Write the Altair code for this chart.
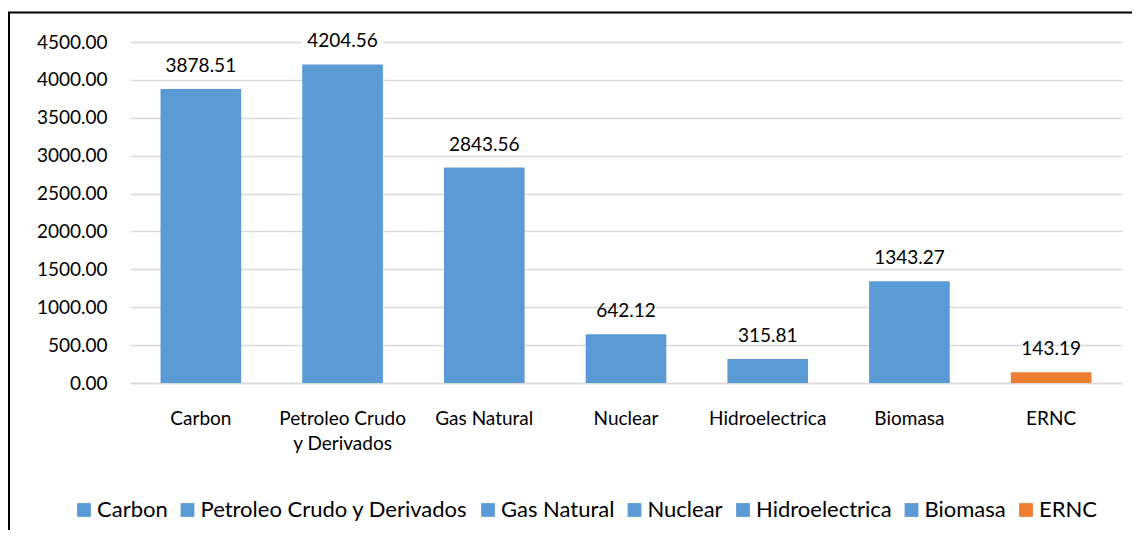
import altair as alt
import pandas as pd

categories = ["Carbon", "Petroleo Crudo y Derivados", "Gas Natural", "Nuclear",
              "Hidroelectrica", "Biomasa", "ERNC"]
values = [3878.51, 4204.56, 2843.56, 642.12, 315.81, 1343.27, 143.19]
bar_colors = ["#5B9BD5", "#5B9BD5", "#5B9BD5", "#5B9BD5", "#5B9BD5", "#5B9BD5", "#ED7D31"]
y_ticks = [0, 500, 1000, 1500, 2000, 2500, 3000, 3500, 4000, 4500]

df = pd.DataFrame({"cat": categories, "val": values})

FONT = "Lato"
W, H = 992, 341

x_axis = alt.Axis(
    labelAngle=0, ticks=False, labelPadding=26, labelFontSize=19,
    labelFont=FONT, labelColor="#000000", domainColor="#D9D9D9",
    domainWidth=1.5, labelLineHeight=25, labelBaseline="top", grid=False,
    labelExpr="datum.value == 'Petroleo Crudo y Derivados' ? ['Petroleo Crudo', 'y Derivados'] : datum.value",
)
y_axis = alt.Axis(
    values=y_ticks, tickCount=10, format=".2f", ticks=False, domain=False,
    labelPadding=23, labelFontSize=19, labelFont=FONT,
    labelColor="#000000", gridColor="#D9D9D9", gridWidth=1.5,
    labelOverlap=False, labelSeparation=0,
)
x_scale = alt.Scale(paddingInner=0.431, paddingOuter=0.2155)
y_scale = alt.Scale(domain=[0, 4500], nice=False)


def xe():
    return alt.X("cat:N", sort=categories, title=None, scale=x_scale, axis=x_axis)


def ye():
    return alt.Y("val:Q", scale=y_scale, title=None, axis=y_axis)


bars = alt.Chart(df).mark_bar().encode(
    x=xe(),
    y=ye(),
    color=alt.Color(
        "cat:N", sort=categories,
        scale=alt.Scale(domain=categories, range=bar_colors),
        legend=alt.Legend(
            title=None, orient="none", direction="horizontal",
            legendX=-57, legendY=457, symbolType="square", symbolSize=190,
            symbolStrokeWidth=0, labelFontSize=22, labelFont=FONT,
            labelColor="#000000", labelOffset=2, columnPadding=8.5,
            columns=7, labelLimit=400,
        ),
    ),
)

label_bg = alt.Chart(df).transform_filter(
    "datum.cat == 'Petroleo Crudo y Derivados'"
).mark_text(
    fontSize=19, font=FONT, dy=-17, baseline="alphabetic",
    fill="white", stroke="white", strokeWidth=12,
).encode(
    x=xe(),
    y=ye(),
    text=alt.Text("val:Q", format=".2f"),
)

labels = alt.Chart(df).mark_text(
    fontSize=19, font=FONT, dy=-17, baseline="alphabetic", color="#000000",
).encode(
    x=xe(),
    y=ye(),
    text=alt.Text("val:Q", format=".2f"),
)

frame_data = alt.Data(values=[{"k": 1}])
left_line = alt.Chart(frame_data).mark_rule(color="#000000", strokeWidth=2).encode(
    x=alt.value(-121), y=alt.value(-29.5), y2=alt.value(H + 150),
)
top_line = alt.Chart(frame_data).mark_rule(color="#000000", strokeWidth=2).encode(
    x=alt.value(-122), x2=alt.value(W + 12), y=alt.value(-29.5),
)

chart = alt.layer(bars, label_bg, labels, left_line, top_line).properties(
    width=W, height=H,
    autosize=alt.AutoSizeParams(type="none"),
    padding={"left": 122, "top": 34, "right": 10, "bottom": 147},
).configure(
    background="white",
    view=alt.ViewConfig(stroke=None),
    axisY=alt.AxisConfig(labelOverlap=False),
)

chart.save("out.html", embed_options={"renderer": "svg", "actions": False})
